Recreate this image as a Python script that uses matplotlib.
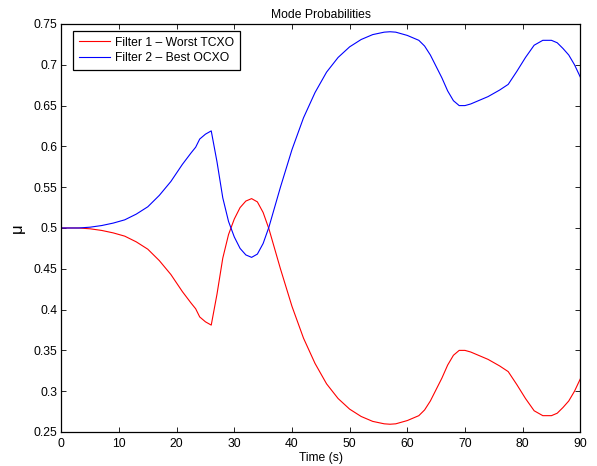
import matplotlib
matplotlib.use('Agg')
import matplotlib.pyplot as plt

plt.rcParams['font.family'] = ['Liberation Sans', 'DejaVu Sans']

# time samples (s)
t = [0, 3, 5, 7, 9, 11, 13, 15, 17, 19, 21, 22.5, 23.3, 24, 25, 26, 27, 28, 29, 30,
     31, 32, 33, 34, 35, 36, 38, 40, 42, 44, 46, 48, 50, 52, 54, 56, 57, 58, 60, 62,
     63, 64, 65, 66, 67, 68, 69, 70, 71, 72, 74, 76, 77.5, 79, 80.5, 82, 83.5, 85, 86, 87,
     88, 89, 90]

# filter 1 - worst TCXO
mu_tcxo = [0.500, 0.500, 0.499, 0.497, 0.494, 0.490, 0.483, 0.474, 0.460, 0.443,
           0.422, 0.408, 0.401, 0.391, 0.385, 0.381, 0.419, 0.463, 0.492, 0.511,
           0.525, 0.533, 0.536, 0.532, 0.519, 0.499, 0.450, 0.404, 0.365, 0.334,
           0.309, 0.291, 0.278, 0.269, 0.263, 0.260, 0.2595, 0.260, 0.264, 0.270,
           0.277, 0.288, 0.302, 0.316, 0.332, 0.344, 0.350, 0.350, 0.348, 0.345,
           0.339, 0.331, 0.324, 0.308, 0.291, 0.276, 0.270, 0.270, 0.273, 0.280,
           0.288, 0.300, 0.315]

# filter 2 - best OCXO
mu_ocxo = [0.500, 0.500, 0.501, 0.503, 0.506, 0.510, 0.517, 0.526, 0.540, 0.557,
           0.578, 0.592, 0.599, 0.609, 0.615, 0.619, 0.581, 0.537, 0.508, 0.489,
           0.475, 0.467, 0.464, 0.468, 0.481, 0.501, 0.550, 0.596, 0.635, 0.666,
           0.691, 0.709, 0.722, 0.731, 0.737, 0.740, 0.7405, 0.740, 0.736, 0.730,
           0.723, 0.712, 0.698, 0.684, 0.668, 0.656, 0.650, 0.650, 0.652, 0.655,
           0.661, 0.669, 0.676, 0.692, 0.709, 0.724, 0.730, 0.730, 0.727, 0.720,
           0.712, 0.700, 0.685]

labels = ['Filter 1 \u2013 Worst TCXO', 'Filter 2 \u2013 Best OCXO']

fs = 8.7

fig = plt.figure(figsize=(5.97, 4.66), dpi=100)
ax = fig.add_axes([0.1027, 0.073, 0.8693, 0.8755])

ax.plot(t, mu_tcxo, color='#ff0000', lw=0.8, label=labels[0])
ax.plot(t, mu_ocxo, color='#0000ff', lw=0.8, label=labels[1])

ax.set_xlim(0, 90)
ax.set_ylim(0.25, 0.75)
ax.set_xticks(range(0, 91, 10))
ax.set_yticks([0.25, 0.3, 0.35, 0.4, 0.45, 0.5, 0.55, 0.6, 0.65, 0.7, 0.75])
ax.set_yticklabels(['0.25', '0.3', '0.35', '0.4', '0.45', '0.5', '0.55', '0.6',
                    '0.65', '0.7', '0.75'])
ax.tick_params(direction='in', length=3.5, width=0.6, labelsize=fs,
               top=True, right=True, pad=3)
ax.tick_params(axis='x', pad=4)
for s in ax.spines.values():
    s.set_linewidth(0.9)

ax.set_title('Mode Probabilities', fontsize=fs, pad=4)
ax.set_xlabel('Time (s)', fontsize=fs, labelpad=2)
ax.set_ylabel('\u03bc', fontsize=12, labelpad=6)

leg = ax.legend(loc='upper left', bbox_to_anchor=(0.022, 0.984), borderaxespad=0,
                fontsize=fs, fancybox=False, edgecolor='black', framealpha=1,
                handlelength=2.55, handletextpad=0.45, borderpad=0.5,
                labelspacing=0.3)
leg.get_frame().set_linewidth(0.9)

fig.savefig('out.png', dpi=100)
